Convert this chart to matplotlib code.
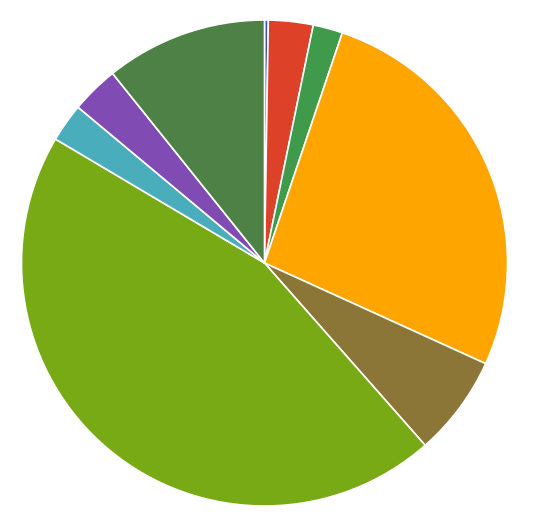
import matplotlib.pyplot as plt

labels = ["Blue", "Red", "Green", "Orange", "Brown", "Lime", "Teal", "Purple", "Dark green"]
values = [0.25, 2.97, 1.97, 26.6, 6.7, 45.0, 2.56, 3.17, 10.75]
colors = ["#3a4fc4", "#dd4127", "#3f9a4c", "#ffa500", "#8b7537",
          "#77aa15", "#4aadbc", "#804cb4", "#4d8146"]

W, H = 533, 529
cx, cy, r = 264.5, 263, 243

fig = plt.figure(figsize=(W / 100, H / 100), dpi=100)
ax = fig.add_axes([(cx - r) / W, (H - cy - r) / H, 2 * r / W, 2 * r / H])
ax.pie(values, colors=colors, startangle=90, counterclock=False,
       wedgeprops=dict(edgecolor="white", linewidth=1.2))
ax.set_xlim(-1, 1)
ax.set_ylim(-1, 1)
ax.set_aspect("auto")
ax.axis("off")

fig.savefig("out.png", dpi=100)
